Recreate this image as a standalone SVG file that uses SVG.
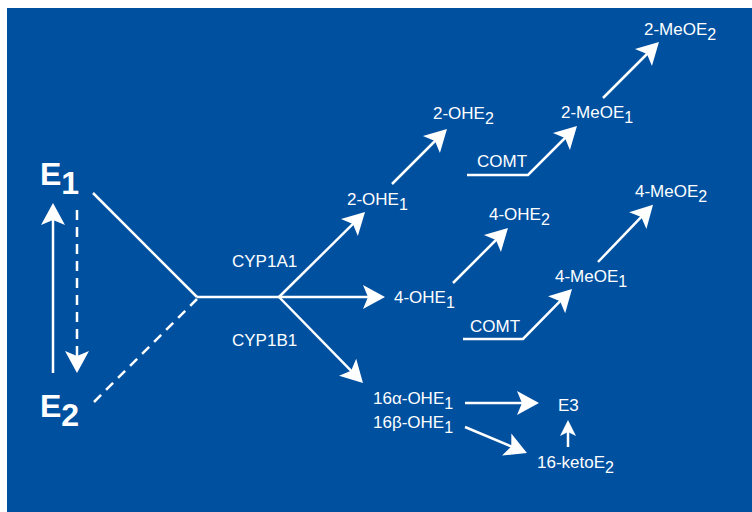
<svg xmlns="http://www.w3.org/2000/svg" width="752" height="512" viewBox="0 0 752 512">
<style>
.bg{fill:#0050a0}
.t{font-family:"Liberation Sans",Arial,sans-serif;font-size:17px;fill:#ffffff}
.b{font-family:"Liberation Sans",Arial,sans-serif;font-size:32px;font-weight:bold;fill:#ffffff}
.s{font-size:16px}
.ln{fill:none;stroke:#ffffff;stroke-width:2.5}
.a{marker-end:url(#ah)}
.d{stroke-dasharray:10 7}
</style>
<defs>
<marker id="ah" markerUnits="userSpaceOnUse" orient="auto" refX="0" refY="0" markerWidth="40" markerHeight="40" overflow="visible">
<path d="M12,0 L-10,-12 L-5,0 L-10,12 Z" fill="#ffffff"/>
</marker>
<marker id="ahs" markerUnits="userSpaceOnUse" orient="auto" refX="0" refY="0" markerWidth="30" markerHeight="30" overflow="visible">
<path d="M8,0 L-8,-8 L-4,0 L-8,8 Z" fill="#ffffff"/>
</marker>
</defs>
<rect class="bg" x="7" y="8" width="745" height="504"/>
<g id="connectors">
<line class="ln a" x1="53" y1="373" x2="53" y2="215"/>
<line class="ln a d" x1="77" y1="210" x2="77" y2="361"/>
<line class="ln" x1="93" y1="193" x2="197" y2="297"/>
<line class="ln d" x1="94" y1="402" x2="197" y2="299"/>
<line class="ln a" x1="197" y1="297" x2="373" y2="297"/>
<line class="ln a" x1="279" y1="297" x2="356.5" y2="220.4"/>
<line class="ln a" x1="279" y1="297" x2="354.6" y2="374.4"/>
<line class="ln a" x1="392" y1="184" x2="438.5" y2="137.5"/>
<polyline class="ln a" points="467,175 528,175 568.5,134.5"/>
<line class="ln a" x1="603" y1="98" x2="650.5" y2="50.5"/>
<line class="ln a" x1="453" y1="283" x2="499.5" y2="236.5"/>
<polyline class="ln a" points="463,339 523,339 563.6,297.6"/>
<line class="ln a" x1="598" y1="262" x2="644.7" y2="213.4"/>
<line class="ln a" x1="465" y1="403" x2="527" y2="403"/>
<line class="ln a" x1="465" y1="427" x2="515.9" y2="448.4"/>
<line class="ln" x1="568" y1="447" x2="568" y2="428" marker-end="url(#ahs)"/>
</g>
<g id="E1"><text class="b" x="40" y="185">E<tspan dy="9">1</tspan></text></g>
<g id="E2"><text class="b" x="40" y="417">E<tspan dy="9">2</tspan></text></g>
<g id="CYP1A1"><text class="t" x="232" y="267">CYP1A1</text></g>
<g id="CYP1B1"><text class="t" x="232" y="346">CYP1B1</text></g>
<g id="n2OHE1"><text class="t" x="347" y="205">2-OHE<tspan class="s" dy="5">1</tspan></text></g>
<g id="n2OHE2"><text class="t" x="433" y="119">2-OHE<tspan class="s" dy="5">2</tspan></text></g>
<g id="COMT1"><text class="t" x="477" y="167">COMT</text></g>
<g id="n2MeOE1"><text class="t" x="561" y="118">2-MeOE<tspan class="s" dy="5">1</tspan></text></g>
<g id="n2MeOE2"><text class="t" x="644" y="35">2-MeOE<tspan class="s" dy="5">2</tspan></text></g>
<g id="n4OHE1"><text class="t" x="394" y="303">4-OHE<tspan class="s" dy="5">1</tspan></text></g>
<g id="n4OHE2"><text class="t" x="489" y="220">4-OHE<tspan class="s" dy="5">2</tspan></text></g>
<g id="COMT2"><text class="t" x="470" y="332">COMT</text></g>
<g id="n4MeOE1"><text class="t" x="555" y="282">4-MeOE<tspan class="s" dy="5">1</tspan></text></g>
<g id="n4MeOE2"><text class="t" x="635" y="197">4-MeOE<tspan class="s" dy="5">2</tspan></text></g>
<g id="n16aOHE1"><text class="t" x="373" y="404">16α-OHE<tspan class="s" dy="5">1</tspan></text></g>
<g id="n16bOHE1"><text class="t" x="373" y="428">16β-OHE<tspan class="s" dy="5">1</tspan></text></g>
<g id="E3"><text class="t" x="558" y="411">E3</text></g>
<g id="n16ketoE2"><text class="t" x="537" y="468">16-ketoE<tspan class="s" dy="5">2</tspan></text></g>
</svg>
